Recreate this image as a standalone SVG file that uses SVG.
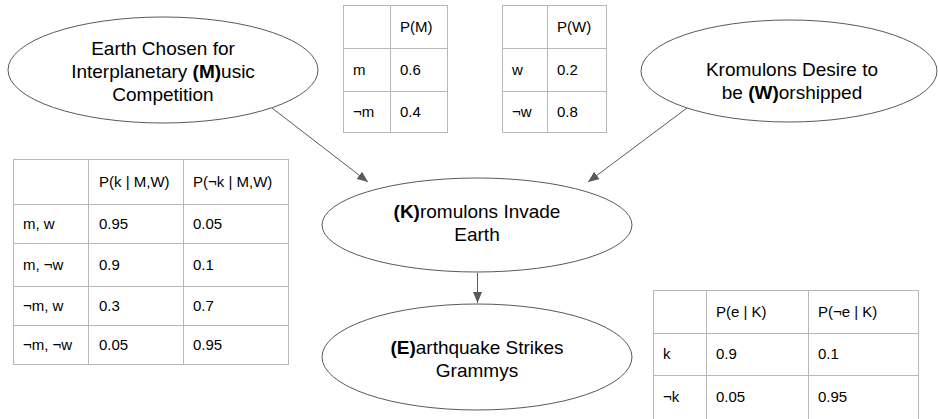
<svg xmlns="http://www.w3.org/2000/svg" width="938" height="419" viewBox="0 0 938 419">
<style>
.node ellipse{fill:#fff;stroke:#595959;stroke-width:1}
.nt{font-family:"Liberation Sans",Arial,sans-serif;font-size:19px;fill:#000;text-anchor:middle}
.b{font-weight:bold}
.grid line,.grid rect{stroke:#b7b7b7;stroke-width:1;fill:none}
.tt{font-family:"Liberation Sans",Arial,sans-serif;font-size:15px;fill:#000}
.edge{stroke:#595959;stroke-width:1;fill:none}
</style>
<defs>
<marker id="ah" markerUnits="userSpaceOnUse" markerWidth="11" markerHeight="9" refX="11" refY="4.5" orient="auto">
<path d="M0,0 L11,4.5 L0,9 z" fill="#595959"/>
</marker>
</defs>
<rect width="938" height="419" fill="#fff"/>

<g id="edges">
<line class="edge" x1="272" y1="108" x2="368" y2="182" marker-end="url(#ah)"/>
<line class="edge" x1="687" y1="108" x2="588" y2="182" marker-end="url(#ah)"/>
<line class="edge" x1="477.5" y1="273" x2="477.5" y2="303" marker-end="url(#ah)"/>
</g>

<g id="node-M" class="node">
<ellipse cx="163" cy="70" rx="155" ry="53"/>
<text class="nt" x="163" y="55">Earth Chosen for</text>
<text class="nt" x="163" y="78">Interplanetary <tspan class="b">(M)</tspan>usic</text>
<text class="nt" x="163" y="101">Competition</text>
</g>

<g id="node-W" class="node">
<ellipse cx="789" cy="71" rx="148" ry="51"/>
<text class="nt" x="792" y="76">Kromulons Desire to</text>
<text class="nt" x="792" y="99">be <tspan class="b">(W)</tspan>orshipped</text>
</g>

<g id="node-K" class="node">
<ellipse cx="477" cy="225" rx="155" ry="47"/>
<text class="nt" x="477" y="218"><tspan class="b">(K)</tspan>romulons Invade</text>
<text class="nt" x="477" y="241">Earth</text>
</g>

<g id="node-E" class="node">
<ellipse cx="477" cy="357" rx="155" ry="53"/>
<text class="nt" x="477" y="354"><tspan class="b">(E)</tspan>arthquake Strikes</text>
<text class="nt" x="477" y="377">Grammys</text>
</g>

<g id="table-M">
<g class="grid">
<rect x="343.5" y="5.5" width="104" height="127"/>
<line x1="390.5" y1="5.5" x2="390.5" y2="132.5"/>
<line x1="343.5" y1="48.5" x2="447.5" y2="48.5"/>
<line x1="343.5" y1="91.5" x2="447.5" y2="91.5"/>
</g>
<text class="tt" x="400" y="32">P(M)</text>
<text class="tt" x="353" y="75">m</text>
<text class="tt" x="400" y="75">0.6</text>
<text class="tt" x="353" y="117">¬m</text>
<text class="tt" x="400" y="117">0.4</text>
</g>

<g id="table-W">
<g class="grid">
<rect x="502.5" y="5.5" width="104" height="127"/>
<line x1="547.5" y1="5.5" x2="547.5" y2="132.5"/>
<line x1="502.5" y1="48.5" x2="606.5" y2="48.5"/>
<line x1="502.5" y1="91.5" x2="606.5" y2="91.5"/>
</g>
<text class="tt" x="557" y="32">P(W)</text>
<text class="tt" x="512" y="75">w</text>
<text class="tt" x="557" y="75">0.2</text>
<text class="tt" x="512" y="117">¬w</text>
<text class="tt" x="557" y="117">0.8</text>
</g>

<g id="table-K">
<g class="grid">
<rect x="13.5" y="159.5" width="275" height="205"/>
<line x1="88.5" y1="159.5" x2="88.5" y2="364.5"/>
<line x1="183.5" y1="159.5" x2="183.5" y2="364.5"/>
<line x1="13.5" y1="204.5" x2="288.5" y2="204.5"/>
<line x1="13.5" y1="243.5" x2="288.5" y2="243.5"/>
<line x1="13.5" y1="286.5" x2="288.5" y2="286.5"/>
<line x1="13.5" y1="325.5" x2="288.5" y2="325.5"/>
</g>
<text class="tt" x="99" y="187">P(k | M,W)</text>
<text class="tt" x="193" y="187">P(¬k | M,W)</text>
<text class="tt" x="23" y="229">m, w</text>
<text class="tt" x="99" y="229">0.95</text>
<text class="tt" x="193" y="229">0.05</text>
<text class="tt" x="23" y="270">m, ¬w</text>
<text class="tt" x="99" y="270">0.9</text>
<text class="tt" x="193" y="270">0.1</text>
<text class="tt" x="23" y="311">¬m, w</text>
<text class="tt" x="99" y="311">0.3</text>
<text class="tt" x="193" y="311">0.7</text>
<text class="tt" x="23" y="350">¬m, ¬w</text>
<text class="tt" x="99" y="350">0.05</text>
<text class="tt" x="193" y="350">0.95</text>
</g>

<g id="table-E">
<g class="grid">
<rect x="653.5" y="290.5" width="265" height="140"/>
<line x1="706.5" y1="290.5" x2="706.5" y2="430"/>
<line x1="808.5" y1="290.5" x2="808.5" y2="430"/>
<line x1="653.5" y1="333.5" x2="918.5" y2="333.5"/>
<line x1="653.5" y1="375.5" x2="918.5" y2="375.5"/>
</g>
<text class="tt" x="716" y="317">P(e | K)</text>
<text class="tt" x="818" y="317">P(¬e | K)</text>
<text class="tt" x="663" y="359">k</text>
<text class="tt" x="716" y="359">0.9</text>
<text class="tt" x="818" y="359">0.1</text>
<text class="tt" x="663" y="402">¬k</text>
<text class="tt" x="716" y="402">0.05</text>
<text class="tt" x="818" y="402">0.95</text>
</g>
</svg>
